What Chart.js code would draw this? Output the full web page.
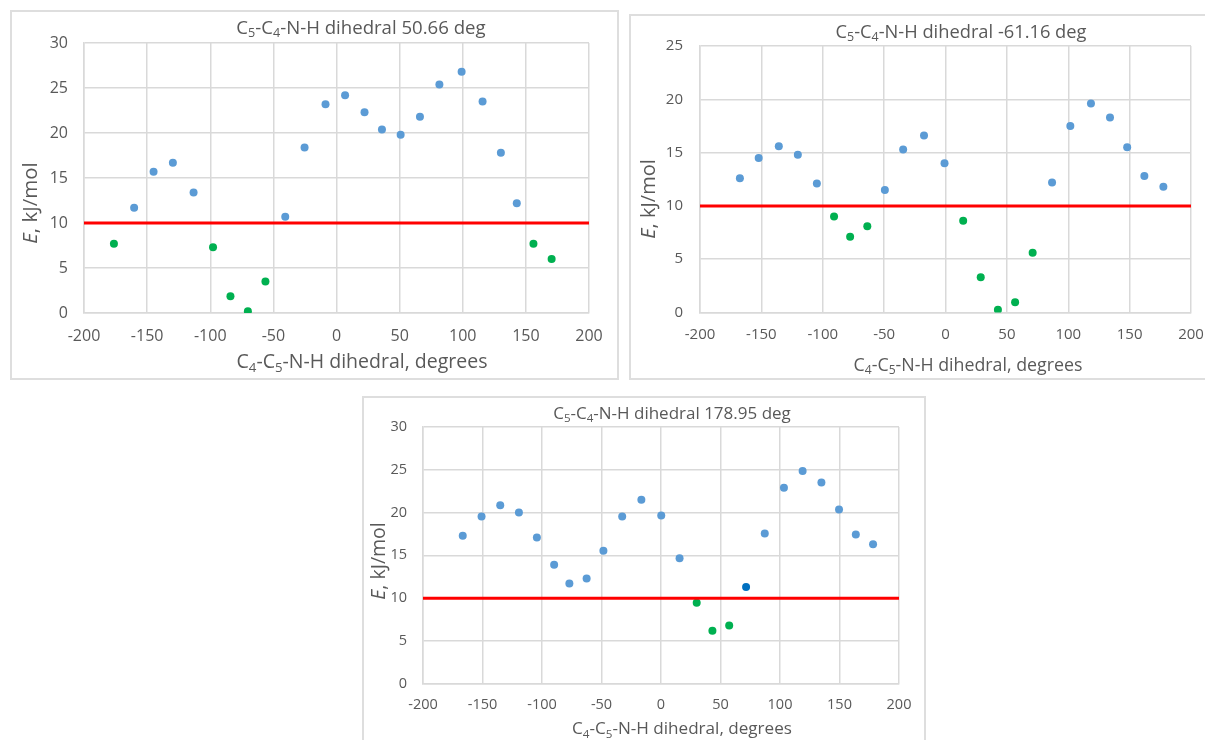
<!DOCTYPE html>
<html>
<head>
<meta charset="utf-8">
<script src="https://cdn.jsdelivr.net/npm/chart.js@4.4.1/dist/chart.umd.min.js"></script>
<style>
    html, body { margin: 0; padding: 0; background: #fff; overflow: hidden; }
    body { width: 1205px; height: 740px; position: relative; font-family: "Open Sans", "Noto Sans", sans-serif; color: #595959; }
    canvas { position: absolute; }
    .panel { position: absolute; box-sizing: border-box; border: 2px solid #dedede; pointer-events: none; }
    .txt { position: absolute; white-space: nowrap; transform: translate(-50%, -50%); line-height: 1; }
    .ytitle { transform: translate(-50%, -50%) rotate(-90deg); }
    sub { font-size: 0.68em; vertical-align: -0.28em; line-height: 0; }
</style>
</head>
<body>

<canvas id="c1" width="607" height="368" style="left:11px;top:11px"></canvas>
<canvas id="c2" width="600" height="364" style="left:630px;top:15px"></canvas>
<canvas id="c3" width="562" height="343" style="left:363px;top:397px"></canvas>

<div class="panel" style="left:10px;top:10px;width:609px;height:370px"></div>
<div class="panel" style="left:629px;top:14px;width:600px;height:366px"></div>
<div class="panel" style="left:362px;top:396px;width:564px;height:360px"></div>

<div class="txt" style="left:361px;top:27px;font-size:18.6px">C<sub>5</sub>-C<sub>4</sub>-N-H dihedral 50.66 deg</div>
<div class="txt" style="left:362px;top:361px;font-size:19.5px">C<sub>4</sub>-C<sub>5</sub>-N-H dihedral, degrees</div>
<div class="txt ytitle" style="left:29px;top:203px;font-size:20.5px"><i>E</i>, kJ/mol</div>

<div class="txt" style="left:961px;top:31px;font-size:18.3px">C<sub>5</sub>-C<sub>4</sub>-N-H dihedral -61.16 deg</div>
<div class="txt" style="left:968px;top:365px;font-size:17.8px">C<sub>4</sub>-C<sub>5</sub>-N-H dihedral, degrees</div>
<div class="txt ytitle" style="left:648px;top:199px;font-size:20px"><i>E</i>, kJ/mol</div>

<div class="txt" style="left:672px;top:412px;font-size:17px">C<sub>5</sub>-C<sub>4</sub>-N-H dihedral 178.95 deg</div>
<div class="txt" style="left:682px;top:728px;font-size:17.1px">C<sub>4</sub>-C<sub>5</sub>-N-H dihedral, degrees</div>
<div class="txt ytitle" style="left:378px;top:561px;font-size:19.5px"><i>E</i>, kJ/mol</div>

<script>
// ---- data (dihedral angle in degrees, energy in kJ/mol) ----
const xMin = -200, xMax = 200, xStep = 50;
const eThreshold = 10;

// C5-C4-N-H dihedral 50.66 deg
const angA_high = [-160.3, -144.9, -129.6, -113.2, -40.6, -25.3, -8.7, 6.8, 22.2, 36.0, 50.8, 66.1, 81.5, 99.1, 115.7, 130.2, 142.8];
const eA_high   = [11.7, 15.7, 16.7, 13.4, 10.7, 18.4, 23.2, 24.2, 22.3, 20.4, 19.8, 21.8, 25.4, 26.8, 23.5, 17.8, 12.2];
const angA_low  = [-176.3, -97.8, -84.0, -70.2, -56.3, 156.0, 170.4];
const eA_low    = [7.7, 7.3, 1.85, 0.2, 3.5, 7.7, 6.0];

// C5-C4-N-H dihedral -61.16 deg
const angB_high = [-167.5, -152.2, -135.8, -120.3, -104.8, -49.4, -34.5, -17.5, -0.8, 86.8, 101.7, 118.5, 134.0, 148.0, 162.0, 177.5];
const eB_high   = [12.6, 14.5, 15.6, 14.8, 12.1, 11.5, 15.3, 16.6, 14.0, 12.2, 17.5, 19.6, 18.3, 15.5, 12.8, 11.8];
const angB_low  = [-90.8, -77.7, -63.7, 14.4, 28.7, 42.7, 56.7, 71.0];
const eB_low    = [9.0, 7.1, 8.1, 8.6, 3.3, 0.25, 0.95, 5.6];

// C5-C4-N-H dihedral 178.95 deg
const angC_high = [-166.6, -150.8, -135.1, -119.4, -104.3, -89.8, -77.0, -62.5, -48.4, -32.6, -16.5, 0.2, 15.6, 87.2, 103.3, 119.0, 134.8, 149.6, 163.7, 178.2];
const eC_high   = [17.3, 19.55, 20.85, 20.0, 17.1, 13.9, 11.7, 12.3, 15.55, 19.55, 21.5, 19.65, 14.65, 17.55, 22.9, 24.85, 23.5, 20.35, 17.45, 16.3];
const angC_mark = [71.5];
const eC_mark   = [11.3];
const angC_low  = [30.0, 43.2, 57.3];
const eC_low    = [9.45, 6.2, 6.8];

const BLUE = '#5b9bd5', DARK_BLUE = '#0070c0', GREEN = '#00b050', RED = '#ff0000';
const GRID = '#d9d9d9';

function pts(xs, ys) {
    return xs.map((x, i) => ({ x: x, y: ys[i] }));
}

function dots(xs, ys, color, r) {
    return {
        type: 'scatter',
        data: pts(xs, ys),
        backgroundColor: color,
        borderColor: color,
        borderWidth: 0,
        pointRadius: r,
        order: 2
    };
}

function makeChart(id, o) {
    const ctx = document.getElementById(id);
    const series = [
        {
            type: 'line',
            data: [{ x: xMin, y: eThreshold }, { x: xMax, y: eThreshold }],
            borderColor: RED,
            borderWidth: 3,
            pointRadius: 0,
            order: 1
        }
    ].concat(o.sets.map(s => dots(s[0], s[1], s[2], o.r)));

    return new Chart(ctx, {
        type: 'scatter',
        data: { datasets: series },
        options: {
            responsive: false,
            animation: false,
            events: [],
            layout: { padding: { left: 0, top: o.padTop, right: o.padRight, bottom: 0 } },
            plugins: { legend: { display: false }, tooltip: { enabled: false }, title: { display: false } },
            scales: {
                x: {
                    type: 'linear',
                    min: xMin, max: xMax,
                    ticks: { stepSize: xStep, color: '#595959', padding: o.xPad, font: { family: 'Open Sans', size: o.tick } },
                    grid: { color: GRID, lineWidth: 1.5, drawTicks: false },
                    border: { color: GRID, width: 1.5 },
                    afterFit: s => { s.height = o.xH; }
                },
                y: {
                    type: 'linear',
                    min: 0, max: o.yMax,
                    ticks: { stepSize: 5, color: '#595959', padding: o.yPad, font: { family: 'Open Sans', size: o.tick } },
                    grid: { color: GRID, lineWidth: 1.5, drawTicks: false },
                    border: { color: GRID, width: 1.5 },
                    afterFit: s => { s.width = o.yW; }
                }
            }
        }
    });
}

makeChart('c1', {
    yMax: 30, padTop: 32, padRight: 29, xH: 66, yW: 73, tick: 16, xPad: 14, yPad: 16, r: 4,
    sets: [[angA_high, eA_high, BLUE], [angA_low, eA_low, GREEN]]
});

makeChart('c2', {
    yMax: 25, padTop: 31, padRight: 39, xH: 66.5, yW: 70, tick: 15, xPad: 13, yPad: 17, r: 4,
    sets: [[angB_high, eB_high, BLUE], [angB_low, eB_low, GREEN]]
});

makeChart('c3', {
    yMax: 30, padTop: 30, padRight: 26, xH: 56.3, yW: 60, tick: 14.5, xPad: 12, yPad: 16, r: 4,
    sets: [[angC_high, eC_high, BLUE], [angC_mark, eC_mark, DARK_BLUE], [angC_low, eC_low, GREEN]]
});
</script>
</body>
</html>
